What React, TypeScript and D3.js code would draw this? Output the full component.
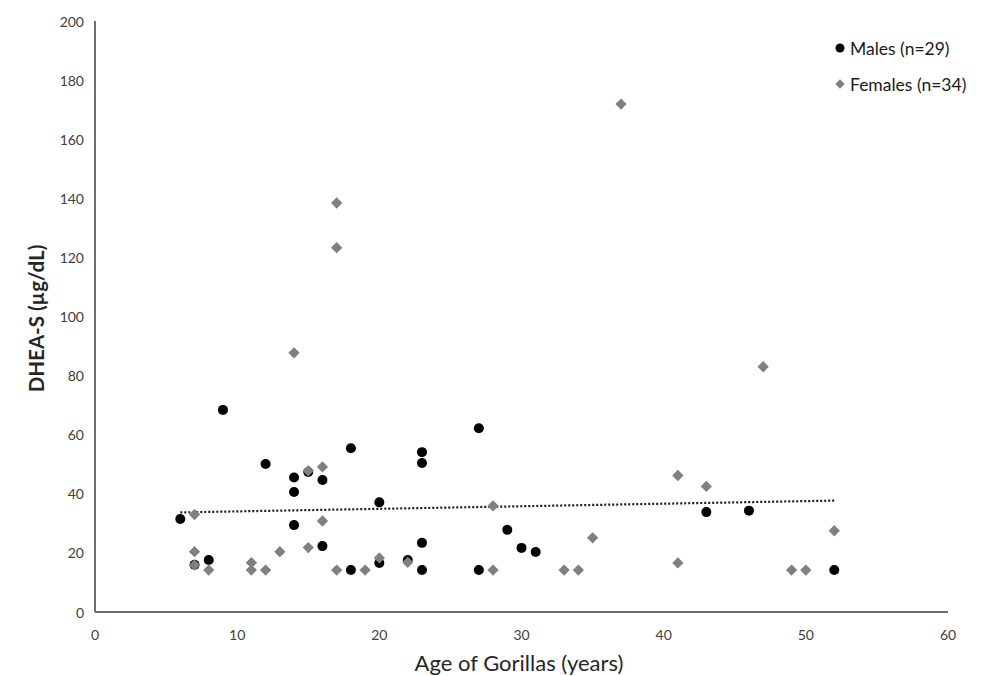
import React from "react";
import * as d3 from "d3";

const maleAge = [6, 7, 8, 9, 12, 14, 14, 14, 15, 16, 16, 18, 18, 20, 20, 22, 23, 23, 23, 23, 27, 27, 29, 30, 31, 43, 46, 52];
const maleDhea = [31.5, 16, 17.6, 68.4, 50.1, 45.5, 40.6, 29.4, 47.4, 44.7, 22.3, 55.4, 14.2, 37.1, 16.6, 17.6, 54.1, 50.4, 23.4, 14.2, 62.2, 14.2, 27.8, 21.7, 20.3, 33.8, 34.3, 14.2];

const femaleAge = [7, 7, 7, 8, 11, 11, 12, 13, 14, 15, 15, 16, 16, 17, 17, 17, 19, 20, 22, 28, 28, 33, 34, 35, 37, 41, 41, 43, 47, 49, 50, 52];
const femaleDhea = [33.0, 20.4, 15.9, 14.2, 16.7, 14.2, 14.2, 20.4, 87.7, 47.8, 21.8, 49.1, 30.8, 138.4, 123.3, 14.2, 14.2, 18.3, 16.8, 35.9, 14.2, 14.2, 14.2, 25.1, 171.9, 46.2, 16.6, 42.5, 83.0, 14.2, 14.2, 27.5];

const trendAge = [6, 52];
const trendDhea = [33.7, 37.7];

const xTicks = [0, 10, 20, 30, 40, 50, 60];
const yTicks = [0, 20, 40, 60, 80, 100, 120, 140, 160, 180, 200];

const legendLabels = ["Males (n=29)", "Females (n=34)"];

const FONT = "Lato, 'Open Sans', sans-serif";

export default function App() {
  const W = 987;
  const H = 676;
  const x = d3.scaleLinear().domain([0, 60]).range([95, 948]);
  const y = d3.scaleLinear().domain([0, 200]).range([612, 21]);

  const males = maleAge.map((a, i) => ({ a, v: maleDhea[i] }));
  const females = femaleAge.map((a, i) => ({ a, v: femaleDhea[i] }));

  const diamond = d3.symbol().type(d3.symbolSquare).size(64)() as string;
  const line = d3
    .line<number>()
    .x((d) => x(d))
    .y((_, i) => y(trendDhea[i]));

  return (
    <svg
      width={W}
      height={H}
      style={{ position: "absolute", left: 0, top: 0, display: "block", background: "#fff" }}
    >
      {/* axes */}
      <line x1={x(0)} x2={x(0)} y1={y(200)} y2={y(0)} stroke="#6e6e6e" strokeWidth={2} />
      <line x1={x(0)} x2={x(60)} y1={y(0)} y2={y(0)} stroke="#6e6e6e" strokeWidth={2} />

      {yTicks.map((t) => (
        <text
          key={"y" + t}
          x={84}
          y={y(t)}
          textAnchor="end"
          dominantBaseline="central"
          fontFamily={FONT}
          fontSize={14}
          fill="#404040"
        >
          {t}
        </text>
      ))}
      {xTicks.map((t) => (
        <text
          key={"x" + t}
          x={x(t)}
          y={634}
          textAnchor="middle"
          dominantBaseline="central"
          fontFamily={FONT}
          fontSize={14}
          fill="#404040"
        >
          {t}
        </text>
      ))}

      <text
        x={519}
        y={662}
        textAnchor="middle"
        dominantBaseline="central"
        fontFamily={FONT}
        fontSize={22}
        fill="#262626"
      >
        Age of Gorillas (years)
      </text>
      <text
        transform={`translate(36,${y(100) + 2}) rotate(-90)`}
        textAnchor="middle"
        dominantBaseline="central"
        fontFamily={FONT}
        fontSize={20.5}
        fontWeight={700}
        fill="#262626"
      >
        DHEA-S (µg/dL)
      </text>

      {/* trend */}
      <path
        d={line(trendAge) as string}
        fill="none"
        stroke="#1a1a1a"
        strokeWidth={2.2}
        strokeDasharray="2 2"
      />

      {/* males */}
      {males.map((d, i) => (
        <circle key={"m" + i} cx={x(d.a)} cy={y(d.v)} r={5} fill="#000" />
      ))}
      {/* females */}
      {females.map((d, i) => (
        <path
          key={"f" + i}
          d={diamond}
          transform={`translate(${x(d.a)},${y(d.v)}) rotate(45)`}
          fill="#808080"
        />
      ))}

      {/* legend */}
      <circle cx={840} cy={48} r={4.5} fill="#000" />
      <text x={850} y={48} dominantBaseline="central" fontFamily={FONT} fontSize={17.5} fill="#1a1a1a">
        {legendLabels[0]}
      </text>
      <path d={d3.symbol().type(d3.symbolSquare).size(44)() as string} transform="translate(840,84) rotate(45)" fill="#808080" />
      <text x={850} y={84} dominantBaseline="central" fontFamily={FONT} fontSize={17.5} fill="#1a1a1a">
        {legendLabels[1]}
      </text>
    </svg>
  );
}
